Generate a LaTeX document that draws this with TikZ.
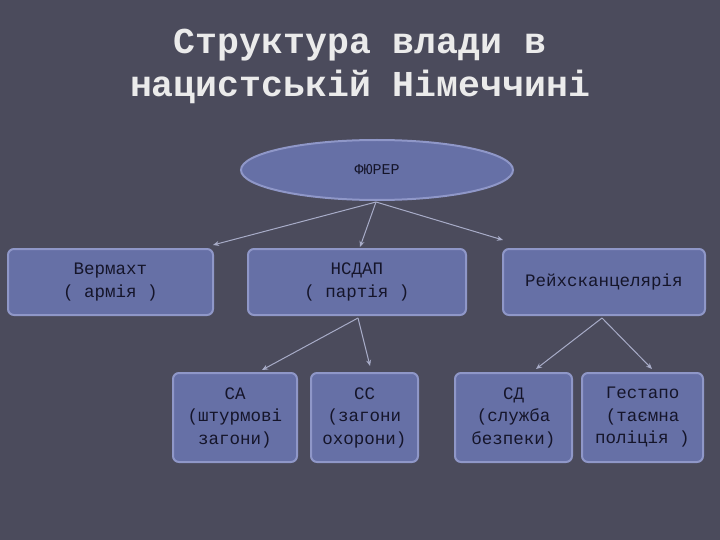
\documentclass[tikz,border=0pt]{standalone}
\usepackage{fontspec}
\setmonofont{Liberation Mono}
\usetikzlibrary{shapes.geometric,arrows.meta}
\definecolor{bg}{HTML}{4B4B5C}
\definecolor{boxfill}{HTML}{6670A6}
\definecolor{boxline}{HTML}{8F97C8}
\definecolor{txt}{HTML}{15152A}
\definecolor{arr}{HTML}{A8ACC8}
\begin{document}
\begin{tikzpicture}[x=1pt,y=-1pt,
  box/.style={draw=boxline,line width=2pt,fill=boxfill,rounded corners=6pt,text=txt,font=\ttfamily\fontsize{17.5}{22.5}\selectfont,align=center,inner sep=0pt},
  conn/.style={draw=arr,line width=1pt,-{Stealth[length=6pt,width=5pt]}}]
\fill[bg] (0,0) rectangle (720,540);
\useasboundingbox (0,0) rectangle (720,540);
\node[text=white!92!black,font=\ttfamily\bfseries\fontsize{36.5}{43}\selectfont,align=center] (title) at (360,66) {Структура влади в\\нацистській Німеччині};
\node[ellipse,draw=boxline,line width=2pt,fill=boxfill,minimum width=272pt,minimum height=60pt,text=txt,font=\ttfamily\fontsize{15}{18}\selectfont] (f) at (377,170) {ФЮРЕР};
\node[box,minimum width=205pt,minimum height=66pt] (w) at (110.5,282) {Вермахт\\( армія )};
\node[box,minimum width=218pt,minimum height=66pt] (n) at (357,282) {НСДАП\\( партія )};
\node[box,minimum width=202pt,minimum height=66pt] (r) at (604,282) {Рейхсканцелярія};
\node[box,minimum width=124pt,minimum height=89pt] (sa) at (235,417.5) {СА\\(штурмові\\загони)};
\node[box,minimum width=107pt,minimum height=89pt] (ss) at (364.5,417.5) {СС\\(загони\\охорони)};
\node[box,minimum width=117pt,minimum height=89pt] (sd) at (513.5,417.5) {СД\\(служба\\безпеки)};
\node[box,minimum width=121pt,minimum height=89pt] (g) at (642.5,417.5) {Гестапо\\(таємна\\поліція )};
\coordinate (fb) at (376,202);
\coordinate (wt) at (213,245);
\coordinate (nt) at (360,247);
\coordinate (rt) at (503,240);
\draw[conn] (fb) -- (wt);
\draw[conn] (fb) -- (nt);
\draw[conn] (fb) -- (rt);
\coordinate (nb) at (358,318);
\coordinate (rb) at (602,318);
\draw[conn] (nb) -- (262,370);
\draw[conn] (nb) -- (370,366);
\draw[conn] (rb) -- (536,369);
\draw[conn] (rb) -- (652,369);
\end{tikzpicture}
\end{document}
